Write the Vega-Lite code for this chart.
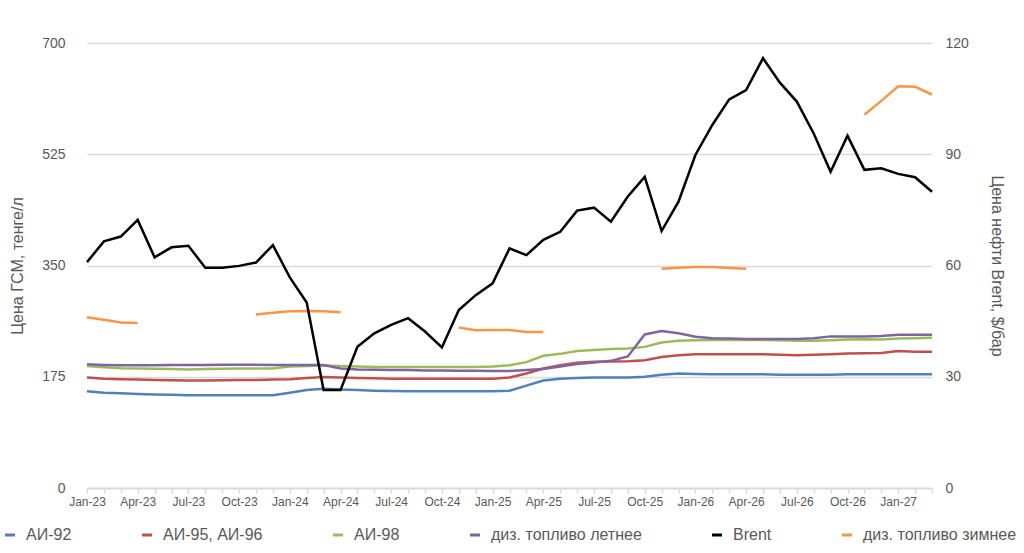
{
  "$schema": "https://vega.github.io/schema/vega-lite/v6.json",
  "autosize": {"type": "none"},
  "width": 845,
  "height": 445,
  "padding": {"left": 87, "top": 43, "right": 92, "bottom": 65},
  "background": "white",
  "config": {
    "font": "Liberation Sans",
    "view": {"stroke": null},
    "axis": {"labelColor": "#595959", "titleColor": "#595959", "labelFont": "Liberation Sans", "titleFont": "Liberation Sans", "titleFontWeight": "normal"}
  },
  "data": {
    "values": [
      {"m": "Jan-23", "a92": 152, "a95": 174, "a98": 192, "dl": 194.5, "brent": 60.9, "dw": 268.5},
      {"m": "Feb-23", "a92": 150, "a95": 172, "a98": 190, "dl": 193.5, "brent": 66.5, "dw": 264.5},
      {"m": "Mar-23", "a92": 149, "a95": 171, "a98": 188.5, "dl": 193, "brent": 67.8, "dw": 260.5},
      {"m": "Apr-23", "a92": 148, "a95": 170.5, "a98": 188, "dl": 193, "brent": 72.3, "dw": 259.5},
      {"m": "May-23", "a92": 147, "a95": 170, "a98": 187.5, "dl": 193, "brent": 62.2, "dw": null},
      {"m": "Jun-23", "a92": 146.5, "a95": 169.5, "a98": 187, "dl": 193.5, "brent": 64.9, "dw": null},
      {"m": "Jul-23", "a92": 146, "a95": 169, "a98": 186.5, "dl": 193.5, "brent": 65.3, "dw": null},
      {"m": "Aug-23", "a92": 146, "a95": 169, "a98": 187, "dl": 193.5, "brent": 59.4, "dw": null},
      {"m": "Sep-23", "a92": 146, "a95": 169.5, "a98": 187.5, "dl": 194, "brent": 59.4, "dw": null},
      {"m": "Oct-23", "a92": 146, "a95": 170, "a98": 188, "dl": 194, "brent": 59.9, "dw": null},
      {"m": "Nov-23", "a92": 146, "a95": 170, "a98": 188, "dl": 194, "brent": 60.8, "dw": 273},
      {"m": "Dec-23", "a92": 146, "a95": 170.5, "a98": 188, "dl": 193.5, "brent": 65.5, "dw": 275.5},
      {"m": "Jan-24", "a92": 150, "a95": 171, "a98": 191, "dl": 193.5, "brent": 56.8, "dw": 278},
      {"m": "Feb-24", "a92": 154, "a95": 173, "a98": 192, "dl": 193.5, "brent": 50.0, "dw": 278.5},
      {"m": "Mar-24", "a92": 156, "a95": 174.5, "a98": 192.5, "dl": 193.5, "brent": 26.4, "dw": 278},
      {"m": "Apr-24", "a92": 155, "a95": 174, "a98": 192, "dl": 188, "brent": 26.4, "dw": 276.5},
      {"m": "May-24", "a92": 154, "a95": 173, "a98": 191, "dl": 186.5, "brent": 38.1, "dw": null},
      {"m": "Jun-24", "a92": 153, "a95": 172.5, "a98": 190.5, "dl": 186, "brent": 41.7, "dw": null},
      {"m": "Jul-24", "a92": 152.5, "a95": 172, "a98": 190.5, "dl": 185.5, "brent": 44.0, "dw": null},
      {"m": "Aug-24", "a92": 152, "a95": 172, "a98": 190.5, "dl": 185.5, "brent": 45.8, "dw": null},
      {"m": "Sep-24", "a92": 152, "a95": 172, "a98": 190.5, "dl": 185, "brent": 42.2, "dw": null},
      {"m": "Oct-24", "a92": 152, "a95": 172, "a98": 190.5, "dl": 185, "brent": 37.9, "dw": null},
      {"m": "Nov-24", "a92": 152, "a95": 172, "a98": 190.5, "dl": 184.5, "brent": 48.0, "dw": 252.5},
      {"m": "Dec-24", "a92": 152, "a95": 172, "a98": 190.5, "dl": 184.5, "brent": 52.0, "dw": 248},
      {"m": "Jan-25", "a92": 152, "a95": 172, "a98": 191, "dl": 184, "brent": 55.2, "dw": 248.5},
      {"m": "Feb-25", "a92": 153, "a95": 174, "a98": 193, "dl": 184, "brent": 64.6, "dw": 248.5},
      {"m": "Mar-25", "a92": 161, "a95": 180, "a98": 198, "dl": 185.5, "brent": 62.8, "dw": 245.5},
      {"m": "Apr-25", "a92": 169, "a95": 188, "a98": 208, "dl": 187, "brent": 66.9, "dw": 245.5},
      {"m": "May-25", "a92": 172, "a95": 193, "a98": 211, "dl": 191, "brent": 69.1, "dw": null},
      {"m": "Jun-25", "a92": 173, "a95": 197, "a98": 215.5, "dl": 195, "brent": 74.8, "dw": null},
      {"m": "Jul-25", "a92": 174, "a95": 198.5, "a98": 217, "dl": 197.5, "brent": 75.6, "dw": null},
      {"m": "Aug-25", "a92": 174, "a95": 199, "a98": 218.5, "dl": 200, "brent": 71.8, "dw": null},
      {"m": "Sep-25", "a92": 174, "a95": 199.5, "a98": 219.5, "dl": 207, "brent": 78.6, "dw": null},
      {"m": "Oct-25", "a92": 175, "a95": 201, "a98": 222, "dl": 241.5, "brent": 83.9, "dw": null},
      {"m": "Nov-25", "a92": 178, "a95": 206, "a98": 229, "dl": 247, "brent": 69.3, "dw": 345},
      {"m": "Dec-25", "a92": 180, "a95": 209, "a98": 231.5, "dl": 243.5, "brent": 77.2, "dw": 346.5},
      {"m": "Jan-26", "a92": 179.5, "a95": 210.5, "a98": 232.5, "dl": 238, "brent": 89.8, "dw": 347.5},
      {"m": "Feb-26", "a92": 179, "a95": 210.5, "a98": 233, "dl": 235.5, "brent": 97.9, "dw": 347.5},
      {"m": "Mar-26", "a92": 179, "a95": 210.5, "a98": 233, "dl": 235, "brent": 104.8, "dw": 346},
      {"m": "Apr-26", "a92": 179, "a95": 210.5, "a98": 233, "dl": 234.5, "brent": 107.3, "dw": 345},
      {"m": "May-26", "a92": 179, "a95": 210.5, "a98": 233, "dl": 234.5, "brent": 115.9, "dw": null},
      {"m": "Jun-26", "a92": 178, "a95": 209.5, "a98": 232.5, "dl": 234.5, "brent": 109.3, "dw": null},
      {"m": "Jul-26", "a92": 178, "a95": 209, "a98": 231.5, "dl": 234.5, "brent": 104.2, "dw": null},
      {"m": "Aug-26", "a92": 178, "a95": 209.5, "a98": 231.5, "dl": 235.5, "brent": 95.6, "dw": null},
      {"m": "Sep-26", "a92": 178, "a95": 210.5, "a98": 232.5, "dl": 238.5, "brent": 85.3, "dw": null},
      {"m": "Oct-26", "a92": 179, "a95": 211.5, "a98": 233.5, "dl": 238.5, "brent": 95.0, "dw": null},
      {"m": "Nov-26", "a92": 179, "a95": 212, "a98": 234, "dl": 238.5, "brent": 85.8, "dw": 587},
      {"m": "Dec-26", "a92": 179, "a95": 212.5, "a98": 233.5, "dl": 239, "brent": 86.2, "dw": 609},
      {"m": "Jan-27", "a92": 179, "a95": 215.5, "a98": 235, "dl": 241, "brent": 84.7, "dw": 632},
      {"m": "Feb-27", "a92": 179, "a95": 214.5, "a98": 235.5, "dl": 241, "brent": 83.8, "dw": 631},
      {"m": "Mar-27", "a92": 179, "a95": 214.5, "a98": 236.5, "dl": 241, "brent": 79.9, "dw": 619}
    ]
  },
  "transform": [
    {"fold": ["a92", "a95", "a98", "dl", "brent", "dw"], "as": ["s", "v"]}
  ],
  "encoding": {
    "x": {
      "field": "m", "type": "ordinal", "sort": null,
      "scale": {"type": "point", "padding": 0},
      "axis": {
        "title": null, "labelAngle": 0, "labelFontSize": 12, "labelPadding": 3,
        "tickSize": 5, "tickColor": "#d9d9d9", "tickWidth": 1.5,
        "domainColor": "#d9d9d9", "domainWidth": 1.5, "grid": false,
        "labelExpr": "indexof(['Jan','Apr','Jul','Oct'], substring(datum.label, 0, 3)) >= 0 ? datum.label : ''"
      }
    },
    "color": {
      "field": "s", "type": "nominal",
      "scale": {
        "domain": ["a92", "a95", "a98", "dl", "brent", "dw"],
        "range": ["#4F81BD", "#C0504D", "#9BBB59", "#8064A2", "#000000", "#F79646"]
      },
      "legend": {
        "title": null, "orient": "none", "direction": "horizontal",
        "legendX": -85, "legendY": 484,
        "symbolType": "stroke", "symbolStrokeWidth": 3, "symbolSize": 100,
        "labelFontSize": 16, "labelColor": "#595959", "labelFont": "Liberation Sans",
        "labelOffset": 8, "columnPadding": 64, "labelLimit": 300,
        "labelExpr": "{'a92':'АИ-92','a95':'АИ-95, АИ-96','a98':'АИ-98','dl':'диз. топливо летнее','brent':'Brent','dw':'диз. топливо зимнее'}[datum.label]"
      }
    }
  },
  "layer": [
    {
      "transform": [{"filter": "datum.s != 'brent'"}],
      "mark": {"type": "line", "strokeWidth": 2.5, "invalid": "break-paths-show-domains"},
      "encoding": {
        "y": {
          "field": "v", "type": "quantitative",
          "scale": {"domain": [0, 700], "nice": false, "zero": true},
          "axis": {
            "title": "Цена ГСМ, тенге/л", "titleFontSize": 16, "titlePadding": 16,
            "values": [0, 175, 350, 525, 700], "labelFontSize": 14, "labelPadding": 22,
            "domain": false, "ticks": false, "tickSize": 0,
            "grid": true, "gridColor": "#d9d9d9", "gridWidth": 1.5
          }
        }
      }
    },
    {
      "transform": [{"filter": "datum.s == 'brent'"}],
      "mark": {"type": "line", "strokeWidth": 2.5},
      "encoding": {
        "y": {
          "field": "v", "type": "quantitative",
          "scale": {"domain": [0, 120], "nice": false, "zero": true},
          "axis": {
            "orient": "right", "title": "Цена нефти Brent, $/бар", "titleFontSize": 16, "titlePadding": 20,
            "values": [0, 30, 60, 90, 120], "labelFontSize": 14, "labelPadding": 13,
            "domain": false, "ticks": false, "tickSize": 0, "grid": false
          }
        }
      }
    }
  ],
  "resolve": {"scale": {"y": "independent"}}
}
